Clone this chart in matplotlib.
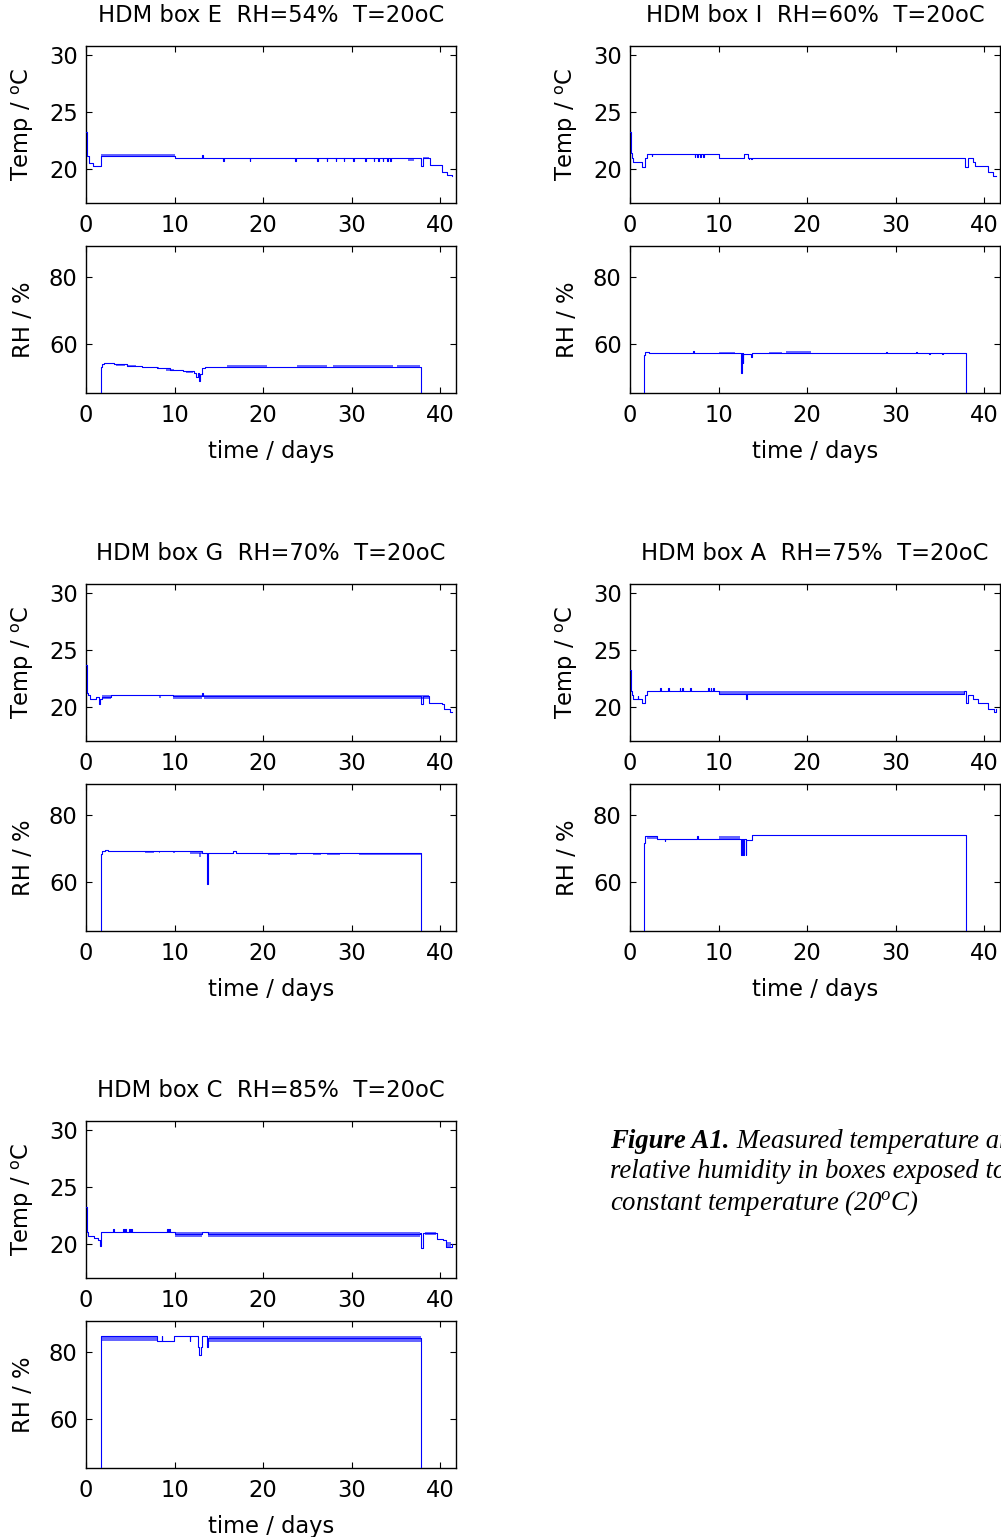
import numpy as np
import matplotlib
matplotlib.use("Agg")
import matplotlib.pyplot as plt

plt.rcParams['font.family'] = 'DejaVu Sans'
plt.rcParams['mathtext.fontset'] = 'custom'
plt.rcParams['mathtext.rm'] = 'DejaVu Sans'
plt.rcParams['mathtext.it'] = 'Liberation Serif:italic'

BLUE = '#0000ff'
XTICKS = [0, 10, 20, 30, 40]
FS = 16.3

# ---- box E, RH=54% ----
E_temp_t = [0, 0.08, 0.38, 0.75, 1.66, 10.0, 37.9, 38.1, 38.9, 40.2, 40.75, 41.3]
E_temp_v = [23.3, 21.2, 20.6, 20.3, 21.2, 21.0, 20.3, 21.0, 20.35, 19.8, 19.5, 19.4]
E_temp_spikes = [(13.1, 21.3), (15.5, 20.75), (18.5, 20.75), (23.6, 20.75), (26.1, 20.75),
                 (27.2, 20.75), (28.2, 20.75), (29.1, 20.75), (30.2, 20.75), (31.5, 20.75),
                 (32.5, 20.75), (33.0, 20.75), (33.5, 20.75), (34.0, 20.75), (34.4, 20.75)]
E_temp_bands = [(1.7, 10.0, 21.05, 21.38), (36.4, 37.0, 20.75, 21.03), (38.1, 38.8, 20.9, 21.1)]
E_rh_t = [0, 1.66, 1.8, 2.0, 3.2, 4.6, 6.3, 8.0, 9.5, 11.0, 12.2, 12.45, 12.6, 12.75, 12.9, 13.1, 13.4, 37.9]
E_rh_v = [0, 53.2, 54.0, 54.4, 54.0, 53.5, 53.2, 52.8, 52.2, 51.8, 51.3, 50.2, 51.2, 49.0, 51.0, 52.9, 53.2, 0]
E_rh_spikes = []
E_rh_bands = [(3.4, 4.4, 53.5, 54.0), (4.8, 5.6, 53.2, 53.7), (7.3, 8.2, 52.7, 53.2), (9.0, 9.9, 52.0, 52.5),
              (11.3, 12.1, 51.3, 51.8), (15.9, 20.4, 53.0, 53.6), (23.8, 27.2, 53.0, 53.6),
              (27.9, 34.7, 53.0, 53.6), (35.1, 37.7, 53.0, 53.6)]

# ---- box I, RH=60% ----
I_temp_t = [0, 0.1, 0.26, 0.38, 1.32, 1.7, 1.9, 10.0, 12.9, 13.3, 37.9, 38.2, 38.7, 39.0, 40.4, 41.0, 41.4]
I_temp_v = [23.3, 21.4, 21.0, 20.64, 20.26, 21.0, 21.38, 21.03, 21.38, 21.03, 20.26, 21.03, 20.64, 20.3, 19.76, 19.47, 19.47]
I_temp_spikes = [(2.45, 21.2), (7.3, 21.1), (7.6, 21.1), (7.9, 21.1), (8.3, 21.1), (13.4, 20.9), (13.7, 20.9)]
I_temp_bands = []
I_rh_t = [0, 1.62, 1.75, 2.2, 12.55, 12.62, 12.75, 12.82, 13.7, 13.8, 38.0]
I_rh_v = [0, 56.8, 57.5, 57.2, 51.2, 57.2, 54.2, 57.0, 56.2, 57.2, 0]
I_rh_spikes = [(7.17, 57.8), (28.9, 57.6), (32.3, 57.6), (33.8, 56.9), (35.3, 56.9)]
I_rh_bands = [(10.0, 11.9, 57.2, 57.7), (15.7, 17.2, 57.2, 57.7), (17.6, 20.4, 57.2, 57.8)]

# ---- box G, RH=70% ----
G_temp_t = [0, 0.08, 0.26, 0.45, 1.1, 1.5, 1.62, 1.77, 2.8, 9.87, 13.07, 13.2, 37.9, 38.1, 38.7, 40.2, 40.45, 41.1, 41.4]
G_temp_v = [23.7, 21.3, 21.1, 20.72, 20.9, 20.3, 20.72, 20.9, 21.1, 21.0, 21.3, 21.0, 20.3, 21.0, 20.43, 20.3, 19.85, 19.57, 19.57]
G_temp_spikes = []
G_temp_bands = [(1.77, 2.8, 20.72, 21.1), (8.3, 8.5, 20.8, 21.1), (9.87, 13.07, 20.75, 21.1), (13.3, 38.7, 20.75, 21.12)]
G_rh_t = [0, 1.66, 1.8, 2.2, 2.5, 13.1, 13.7, 13.8, 16.6, 17.0, 37.9]
G_rh_v = [0, 68.4, 69.2, 69.7, 69.2, 68.6, 59.4, 68.6, 69.2, 68.6, 0]
G_rh_spikes = []
G_rh_bands = [(6.7, 7.7, 68.6, 69.2), (8.2, 8.4, 68.6, 69.2), (9.8, 10.0, 68.6, 69.2), (11.75, 13.07, 68.3, 69.2),
              (12.8, 12.95, 67.6, 68.6), (20.6, 21.9, 68.0, 68.6), (23.0, 23.8, 68.0, 68.6),
              (25.7, 26.6, 68.0, 68.6), (27.2, 28.7, 68.0, 68.6), (30.8, 37.9, 68.0, 68.6)]

# ---- box A, RH=75% ----
A_temp_t = [0, 0.1, 0.26, 0.38, 1.32, 1.7, 1.9, 10.0, 37.7, 38.0, 38.2, 38.7, 39.3, 40.5, 41.1, 41.35]
A_temp_v = [23.3, 21.45, 21.1, 20.72, 20.35, 21.1, 21.45, 21.2, 21.45, 20.35, 21.1, 20.72, 20.35, 19.85, 19.57, 19.85]
A_temp_spikes = [(0.87, 21.0), (3.4, 21.74), (4.3, 21.74), (5.6, 21.74), (5.9, 21.74), (6.8, 21.74),
                 (8.8, 21.74), (9.1, 21.74), (9.4, 21.74), (13.1, 20.72)]
A_temp_bands = [(10.0, 37.7, 21.05, 21.45)]
A_rh_t = [0, 1.62, 1.75, 3.0, 3.9, 4.0, 7.6, 7.7, 12.55, 12.6, 12.8, 12.85, 13.05, 13.1, 13.75, 38.0]
A_rh_v = [0, 71.7, 73.7, 72.9, 72.2, 72.9, 73.7, 72.9, 68.0, 72.9, 68.0, 72.9, 68.0, 72.6, 74.0, 0]
A_rh_spikes = []
A_rh_bands = [(1.9, 3.0, 72.9, 73.7), (10.0, 12.45, 72.9, 73.9)]

# ---- box C, RH=85% ----
C_temp_t = [0, 0.08, 0.26, 0.9, 1.4, 1.58, 1.7, 10.05, 13.07, 13.8, 37.7, 37.9, 38.1, 39.6, 40.3, 40.7, 41.3]
C_temp_v = [23.3, 21.1, 20.72, 20.58, 20.35, 19.85, 21.1, 20.9, 21.1, 20.9, 21.0, 19.7, 21.0, 20.5, 20.35, 19.8, 20.0]
C_temp_spikes = [(3.09, 21.36), (4.2, 21.36), (4.4, 21.36), (4.9, 21.36), (5.1, 21.36), (9.2, 21.36), (9.4, 21.36)]
C_temp_bands = [(10.05, 13.07, 20.64, 21.1), (13.8, 37.7, 20.64, 21.1), (38.3, 39.5, 20.87, 21.1), (40.7, 41.2, 19.7, 20.2)]
C_rh_t = [0, 1.66, 1.75, 8.0, 9.9, 11.7, 11.8, 12.7, 12.8, 12.96, 13.1, 13.7, 13.8, 37.9]
C_rh_v = [0, 81.7, 85.0, 83.4, 85.0, 83.4, 85.0, 81.7, 79.2, 81.7, 85.0, 81.7, 84.2, 0]
C_rh_spikes = [(8.55, 85.0)]
C_rh_bands = [(1.8, 8.0, 83.4, 85.0), (13.9, 37.9, 83.2, 85.0)]

titles = ['HDM box E  RH=54%  T=20oC', 'HDM box I  RH=60%  T=20oC', 'HDM box G  RH=70%  T=20oC',
          'HDM box A  RH=75%  T=20oC', 'HDM box C  RH=85%  T=20oC']
temp_data = [(E_temp_t, E_temp_v, E_temp_spikes, E_temp_bands), (I_temp_t, I_temp_v, I_temp_spikes, I_temp_bands),
             (G_temp_t, G_temp_v, G_temp_spikes, G_temp_bands), (A_temp_t, A_temp_v, A_temp_spikes, A_temp_bands),
             (C_temp_t, C_temp_v, C_temp_spikes, C_temp_bands)]
rh_data = [(E_rh_t, E_rh_v, E_rh_spikes, E_rh_bands), (I_rh_t, I_rh_v, I_rh_spikes, I_rh_bands),
           (G_rh_t, G_rh_v, G_rh_spikes, G_rh_bands), (A_rh_t, A_rh_v, A_rh_spikes, A_rh_bands),
           (C_rh_t, C_rh_v, C_rh_spikes, C_rh_bands)]


def merge_spikes(t, v, spikes, w=0.08):
    # put short excursions into the step series
    pts = list(zip(t, v))
    for ts, vs in spikes:
        i = np.searchsorted(t, ts + w, side='right') - 1
        pts.append((ts, vs))
        pts.append((ts + w, v[i]))
    pts.sort(key=lambda p: p[0])
    return [p[0] for p in pts], [p[1] for p in pts]


def draw_series(ax, data):
    t, v, spikes, bands = data
    for t0, t1, lo, hi in bands:
        ax.fill_between([t0, t1], [lo, lo], [hi, hi], color=BLUE, alpha=0.6, lw=0, zorder=2)
    tt, vv = merge_spikes(t, v, spikes)
    ax.step(tt, vv, where='post', color=BLUE, lw=0.8, zorder=3)


def style(ax, ylim, yticks):
    ax.set_xlim(0, 41.8)
    ax.set_ylim(*ylim)
    ax.set_xticks(XTICKS)
    ax.set_yticks(yticks)
    ax.tick_params(direction='in', top=True, right=True, length=4, width=0.8, labelsize=FS)
    ax.tick_params(axis='x', pad=8)
    ax.tick_params(axis='y', pad=6)
    for s in ax.spines.values():
        s.set_linewidth(1.0)


W, H = 1001, 1537
fig = plt.figure(figsize=(W / 100, H / 100), dpi=100)

cols = [86, 630]
rows = [45.7, 583.7, 1120.7]
for k in range(5):
    x0 = cols[k % 2]
    y0 = rows[k // 2]
    axT = fig.add_axes([x0 / W, 1 - (y0 + 157.6) / H, 370 / W, 157.6 / H])
    axR = fig.add_axes([x0 / W, 1 - (y0 + 200 + 147.6) / H, 370 / W, 147.6 / H])
    draw_series(axT, temp_data[k])
    draw_series(axR, rh_data[k])
    style(axT, (17.05, 30.8), [20, 25, 30])
    style(axR, (45.2, 89.5), [60, 80])
    axT.set_title(titles[k], fontsize=FS, pad=17)
    axT.set_ylabel(r'Temp / $^{\mathrm{o}}$C', fontsize=FS, labelpad=10)
    axR.set_ylabel('RH / %', fontsize=FS, labelpad=10)
    axR.set_xlabel('time / days', fontsize=FS, labelpad=9)

# caption
cap_size = 19.3
x_cap = 610 / W
t1 = fig.text(x_cap, 1 - 1147.5 / H, 'Figure A1.', family='Liberation Serif', style='italic',
              weight='bold', fontsize=cap_size, va='baseline')
r = fig.canvas.get_renderer()
bb = t1.get_window_extent(r)
fig.text(bb.x1 / W, 1 - 1147.5 / H, ' Measured temperature and', family='Liberation Serif',
         style='italic', fontsize=cap_size, va='baseline')
fig.text(x_cap, 1 - 1178.5 / H, 'relative humidity in boxes exposed to', family='Liberation Serif',
         style='italic', fontsize=cap_size, va='baseline')
fig.text(x_cap, 1 - 1209.5 / H, r'constant temperature (20$^{o}$C)', family='Liberation Serif',
         style='italic', fontsize=cap_size, va='baseline')

fig.savefig('out.png', dpi=100)
